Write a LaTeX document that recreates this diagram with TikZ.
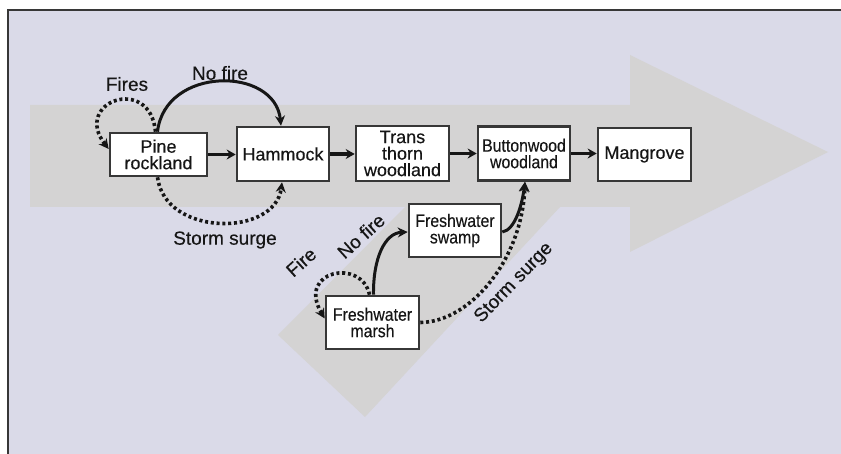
\documentclass[tikz,border=0pt]{standalone}
\usepackage{fontspec}
\setmainfont{Liberation Sans}[FakeBold=0.3,AutoFakeBold=0.3]
\newfontfamily\plainfont{Liberation Sans}[FakeBold=0.3]
\newfontfamily\narrowfont{Liberation Sans}[FakeStretch=0.88,FakeBold=0.3]
\usetikzlibrary{arrows.meta}
\definecolor{bglav}{RGB}{218,218,232}
\definecolor{arrgray}{RGB}{212,211,211}
\definecolor{ink}{RGB}{22,22,22}
\definecolor{boxline}{RGB}{55,55,55}
\begin{document}
\begin{tikzpicture}[x=1pt,y=-1pt,
  box/.style={draw=boxline, line width=2.6pt, fill=white, inner sep=0pt, align=center, text=ink, font={\plainfont\fontsize{18}{16.5}\selectfont}},
  narrowbox/.style={box, font={\narrowfont\fontsize{18}{16.5}\selectfont}},
  lbl/.style={text=ink, font={\plainfont\fontsize{19}{20}\selectfont}, inner sep=0pt},
  flow/.style={draw=ink, line width=3.2pt, -{Stealth[length=9pt,width=10pt]}},
  solidarc/.style={draw=ink, line width=3pt, -{Stealth[length=10pt,width=10pt]}},
  dotarc/.style={draw=ink, line width=3.6pt, dash pattern=on 3pt off 2.8pt, -{Stealth[length=10pt,width=10pt]}}
]
\useasboundingbox (0,0) rectangle (841,454);
\fill[white] (0,0) rectangle (841,454);
\fill[bglav] (8,10) rectangle (841,454);
\draw[boxline, line width=1.5pt] (8,454) -- (8,10) -- (841,10);

% big background arrow
\fill[arrgray] (30,105) -- (630,105) -- (630,55) -- (828,152) -- (630,252) -- (630,207)
  -- (560,207) -- (365,417) -- (278,335) -- (405,207) -- (30,207) -- cycle;

% nodes
\node[box, minimum width=97pt, minimum height=43pt] (pine) at (158.5,154.5) {Pine\\rockland};
\node[box, minimum width=92pt, minimum height=54pt] (ham) at (283,154) {Hammock};
\node[box, minimum width=93pt, minimum height=55pt] (trans) at (402.5,153.5) {Trans\\thorn\\woodland};
\node[narrowbox, minimum width=92pt, minimum height=54pt] (button) at (524,153.5) {Buttonwood\\woodland};
\node[box, minimum width=93pt, minimum height=53pt] (mang) at (644.5,154.5) {Mangrove};
\node[narrowbox, minimum width=92pt, minimum height=53pt] (swamp) at (455,230.5) {Freshwater\\swamp};
\node[narrowbox, minimum width=93pt, minimum height=53pt] (marsh) at (372.5,322.5) {Freshwater\\marsh};

% main flow arrows
\draw[flow] (pine.east) -- (ham.west |- pine.east);
\draw[flow] (ham.east) -- (trans.west |- ham.east);
\draw[flow] (trans.east) -- (button.west |- trans.east);
\draw[flow] (button.east) -- (mang.west |- button.east);

% upper loops
\draw[dotarc] ([xshift=-3pt]pine.north) .. controls (150,74) and (72,102) .. ([yshift=5.5pt]pine.west);
\draw[solidarc] ([xshift=-1pt]pine.north) .. controls (165,66) and (275,66) .. ([xshift=-2pt]ham.north);
\draw[dotarc] ([xshift=-1pt]pine.south) .. controls (165,237) and (275,237) .. ([xshift=-1pt]ham.south);

% lower loops
\draw[dotarc] ([xshift=-3pt]marsh.north) .. controls (362,258) and (296,270) .. ([yshift=4pt]marsh.west);
\draw[solidarc] ([xshift=1pt]marsh.north) .. controls (373,258) and (385,233) .. ([yshift=-1.5pt]swamp.west);
\draw[solidarc] ([yshift=-1.5pt]swamp.east) .. controls (515,230) and (522,205) .. ([xshift=1pt]button.south);
\draw[dotarc] (marsh.east) .. controls (470,322) and (522,260) .. ([xshift=1pt]button.south);

% labels
\node[lbl] (lfires) at (127,84) {Fires};
\node[lbl] (lnofire) at (220,73) {No fire};
\node[lbl] (lstorm) at (225,240) {Storm surge};
\node[lbl, rotate=42] (lfire2) at (301,262) {Fire};
\node[lbl, rotate=42] (lnofire2) at (361,236) {No fire};
\node[lbl, rotate=46] (lstorm2) at (514,283) {Storm surge};
\end{tikzpicture}
\end{document}
